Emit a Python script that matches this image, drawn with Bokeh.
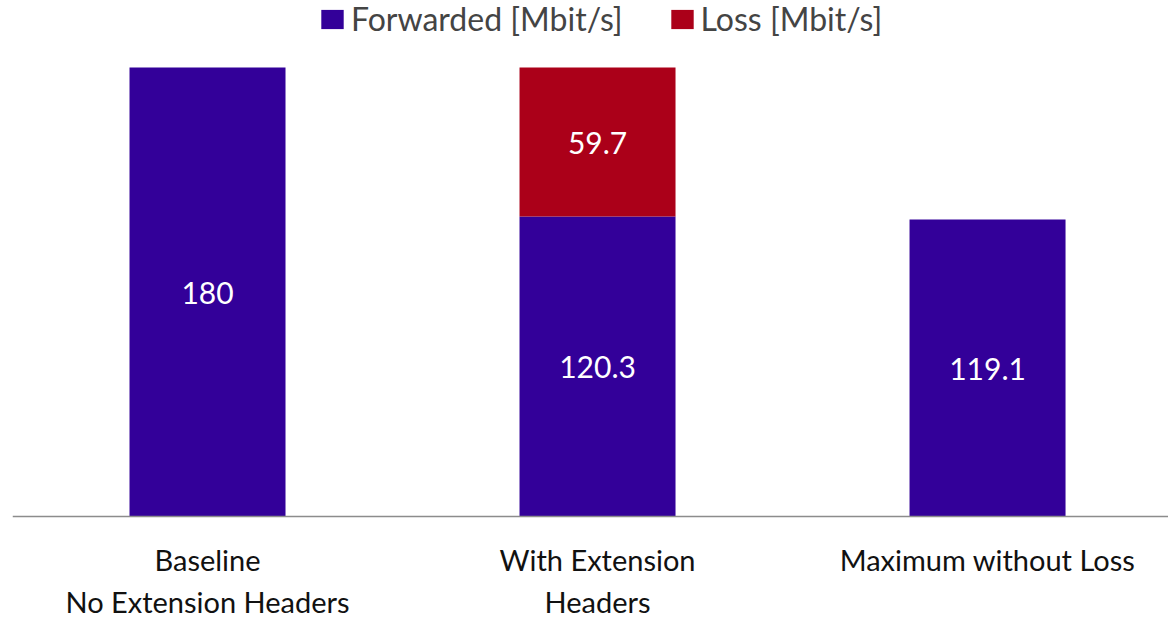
from bokeh.plotting import figure
from bokeh.models import ColumnDataSource, Range1d, FixedTicker, Legend, LegendItem
from bokeh.core.properties import value
from bokeh.embed import file_html
from bokeh.resources import INLINE

categories = ["Baseline\nNo Extension Headers", "With Extension\nHeaders", "Maximum without Loss"]
forwarded = [180, 120.3, 119.1]
loss = [0, 59.7, 0]
series_names = ["Forwarded [Mbit/s]", "Loss [Mbit/s]"]
colors = ["#330099", "#AB0019"]

FONT = "Lato"
xs = list(range(len(categories)))
src = ColumnDataSource(dict(x=xs, fwd=forwarded, loss=loss))

p = figure(width=1168, height=618, output_backend="svg", toolbar_location=None,
           x_range=Range1d(-0.5, 2.464), y_range=Range1d(-40.89, 206.86),
           min_border_left=12, min_border_right=0, min_border_top=0, min_border_bottom=0)
p.outline_line_color = None
p.xgrid.visible = False
p.ygrid.visible = False
p.yaxis.visible = False

r = p.vbar_stack(["fwd", "loss"], x="x", width=0.4, color=colors, line_color=None, source=src)

# labels
lx, ly, lt = [], [], []
for i, (f, l) in enumerate(zip(forwarded, loss)):
    if f > 0:
        lx.append(i); ly.append(f / 2); lt.append(f"{f:g}")
    if l > 0:
        lx.append(i); ly.append(f + l / 2); lt.append(f"{l:g}")
p.text(x=lx, y=ly, text=lt, text_color="white", text_font=value(FONT),
       text_font_size="30px", text_align="center", text_baseline="middle",
       y_offset=1)

ax = p.xaxis[0]
ax.fixed_location = 0
ax.ticker = FixedTicker(ticks=xs)
ax.major_label_overrides = {i: c for i, c in enumerate(categories)}
ax.major_label_text_font = FONT
ax.major_label_text_font_size = "29px"
ax.major_label_text_color = "#111111"
ax.major_tick_line_color = None
ax.minor_tick_line_color = None
ax.axis_line_color = "#8c8c8c"
ax.axis_line_width = 1.5
ax.major_label_standoff = 19

legend = Legend(items=[LegendItem(label=n, renderers=[rr]) for n, rr in zip(series_names, r)],
                orientation="horizontal", location=(306, 580),
                label_text_font=FONT, label_text_font_size="32px",
                glyph_width=28, glyph_height=24, spacing=45, label_standoff=5,
                background_fill_alpha=0, border_line_color=None, margin=0, padding=2)
p.add_layout(legend, "center")

open("out.html", "w").write(file_html(p, INLINE))
